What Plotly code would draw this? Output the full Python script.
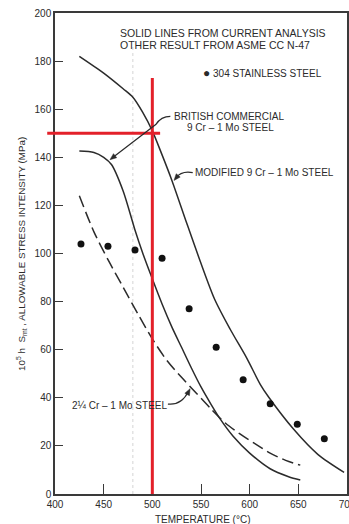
import math
import plotly.graph_objects as go

# Temperature (deg C) vs 10^5 h allowable stress intensity Smt (MPa)
mod_temp = [425, 450, 470, 480, 490, 500, 510, 520, 535, 549, 564, 580, 597, 611, 620, 645, 670, 697]
mod_stress = [182, 175, 168.5, 165, 158.8, 151, 141, 130.5, 113, 97, 81, 68.5, 56.5, 45.5, 40, 27, 16.5, 9]

brit_temp = [425, 440, 450, 458, 470, 482, 490, 499, 510, 520, 530, 540, 550, 560, 570, 583, 600, 621, 640, 652]
brit_stress = [142.6, 142, 140, 137, 126, 110, 100.3, 90.5, 79, 69.5, 61, 52.5, 44.5, 37.5, 31, 24, 17, 10.5, 7.2, 5.8]

crmo_temp = [425, 440, 455, 470, 485, 500, 515, 530, 545, 560, 575, 590, 605, 621, 637, 652]
crmo_stress = [124, 109, 97, 86, 75, 64.5, 55.5, 48.5, 42, 35.5, 29.5, 25, 21, 17, 14, 12]

ss_temp = [426.7, 454.4, 482.2, 510.0, 537.8, 565.6, 593.3, 621.1, 648.9, 676.7]
ss_stress = [104, 103, 101.5, 98, 77, 61, 47.5, 37.5, 29, 23]

x_ticks = [400, 450, 500, 550, 600, 650, 700]
y_ticks = [0, 20, 40, 60, 80, 100, 120, 140, 160, 180, 200]

# design point marked by the red cross-hair
ref_temp = 500
ref_stress = 150

INK = "#2b2b2b"
RED = "#e3202a"
FONT = "Liberation Sans"

X0, X1 = 400, 700
Y0, Y1 = 0, 200
W, H = 349, 524
ML, MR, MT, MB = 55, 2, 13, 30
SX = (W - ML - MR) / (X1 - X0)   # px per deg C
SY = (H - MT - MB) / (Y1 - Y0)   # px per MPa


def px(t):
    # data temperature -> paper fraction
    return (t - X0) / (X1 - X0)


def py(v):
    # data stress -> paper fraction
    return (v - Y0) / (Y1 - Y0)


def arrowhead(tip, tail, length=6.5, half=2.6):
    # filled triangular head at `tip`, pointing away from `tail` (data coords)
    dx = (tip[0] - tail[0]) * SX
    dy = (tip[1] - tail[1]) * SY
    n = math.hypot(dx, dy)
    ux, uy = dx / n, dy / n
    bx, by = -ux * length, -uy * length
    p1 = (bx - uy * half, by + ux * half)
    p2 = (bx + uy * half, by - ux * half)
    pts = [(0, 0), p1, p2]
    d = "M " + " L ".join(f"{tip[0] + a / SX:.3f},{tip[1] + b / SY:.3f}" for a, b in pts) + " Z"
    return dict(type="path", xref="x", yref="y", path=d,
                fillcolor=INK, line=dict(color=INK, width=0.5))


fig = go.Figure()

fig.add_trace(go.Scatter(x=mod_temp, y=mod_stress, mode="lines",
                         line=dict(color=INK, width=1.5, shape="spline", smoothing=0.8),
                         name="MODIFIED 9 Cr - 1 Mo STEEL"))
fig.add_trace(go.Scatter(x=brit_temp, y=brit_stress, mode="lines",
                         line=dict(color=INK, width=1.5, shape="spline", smoothing=0.8),
                         name="BRITISH COMMERCIAL 9 Cr - 1 Mo STEEL"))
fig.add_trace(go.Scatter(x=crmo_temp, y=crmo_stress, mode="lines",
                         line=dict(color=INK, width=1.5, shape="spline", smoothing=0.8,
                                   dash="12px,5px"),
                         name="2 1/4 Cr - 1 Mo STEEL"))
fig.add_trace(go.Scatter(x=ss_temp, y=ss_stress, mode="markers",
                         marker=dict(color="#111111", size=7),
                         name="304 STAINLESS STEEL"))

shapes = [
    # faint dotted construction line
    dict(type="line", xref="x", yref="y", x0=480, x1=480, y0=0, y1=187,
         line=dict(color="#d4d4d4", width=1, dash="dot"), layer="below"),
    # red cross-hair
    dict(type="line", xref="x", yref="y", x0=ref_temp, x1=ref_temp, y0=0, y1=173,
         line=dict(color=RED, width=3)),
    dict(type="line", xref="paper", yref="y", x0=px(392), x1=px(508),
         y0=ref_stress, y1=ref_stress, line=dict(color=RED, width=3)),
    # curved leaders
    dict(type="path", xref="x", yref="y",
         path="M 518.5,157 Q 509,157 503.5,153.6 L 459,139.8",
         line=dict(color=INK, width=1.2)),
    dict(type="path", xref="x", yref="y",
         path="M 541.5,133.6 Q 530,134.5 524,131.4",
         line=dict(color=INK, width=1.2)),
    dict(type="path", xref="x", yref="y",
         path="M 516,37.4 Q 530,36.8 537,42.6",
         line=dict(color=INK, width=1.2)),
    # leader arrowheads
    arrowhead((456.5, 139), (464, 141.4)),
    arrowhead((522.3, 130.4), (526, 132.2)),
    arrowhead((538.8, 43.8), (535, 40.8)),
]

txt = dict(family=FONT, size=10, color=INK)
annotations = [
    dict(x=px(464.7), y=py(191.6), xref="paper", yref="paper",
         text="SOLID LINES FROM CURRENT ANALYSIS", showarrow=False,
         xanchor="left", yanchor="middle", font=dict(family=FONT, size=10.5, color=INK)),
    dict(x=px(464.7), y=py(186.6), xref="paper", yref="paper",
         text="OTHER RESULT FROM ASME CC N-47", showarrow=False,
         xanchor="left", yanchor="middle", font=dict(family=FONT, size=10.5, color=INK)),
    dict(x=550.3, y=175.2, xref="x", yref="y",
         text="<span style='font-size:12px'>●</span> 304 STAINLESS STEEL",
         showarrow=False, xanchor="left", yanchor="middle", font=txt),
    dict(x=578.5, y=156.8, xref="x", yref="y", text="BRITISH COMMERCIAL",
         showarrow=False, xanchor="center", yanchor="middle", font=txt),
    dict(x=580, y=152.2, xref="x", yref="y", text="9 Cr – 1 Mo STEEL",
         showarrow=False, xanchor="center", yanchor="middle", font=txt),
    dict(x=542, y=133.6, xref="x", yref="y", text="MODIFIED 9 Cr – 1 Mo STEEL",
         showarrow=False, xanchor="left", yanchor="middle", font=txt),
    dict(x=415, y=37, xref="x", yref="y", text="2¼ Cr – 1 Mo STEEL",
         showarrow=False, xanchor="left", yanchor="middle", font=txt),
    # axis titles
    dict(x=-0.115, y=0.5, xref="paper", yref="paper", textangle=-90,
         text="10<sup>5</sup> h  S<sub>mt</sub> , ALLOWABLE STRESS INTENSITY (MPa)",
         showarrow=False, xanchor="center", yanchor="middle",
         font=dict(family=FONT, size=9.8, color=INK)),
    dict(x=0.505, y=-0.054, xref="paper", yref="paper", text="TEMPERATURE (°C)",
         showarrow=False, xanchor="center", yanchor="middle", font=txt),
]

axis_common = dict(showgrid=False, zeroline=False, showline=True, linecolor="#3a3a3a",
                   linewidth=1.5, mirror=True, ticks="inside", tickcolor="#3a3a3a",
                   tickwidth=1.3, tickfont=dict(family=FONT, size=10, color=INK),
                   ticklabeloverflow="allow", automargin=False)

fig.update_layout(
    width=W, height=H,
    margin=dict(l=ML, r=MR, t=MT, b=MB),
    paper_bgcolor="white", plot_bgcolor="white",
    showlegend=False,
    shapes=shapes,
    annotations=annotations,
    xaxis=dict(range=[X0, X1], tickvals=x_ticks, ticktext=[str(v) for v in x_ticks],
               ticklen=10, **axis_common),
    yaxis=dict(range=[Y0, Y1], tickvals=y_ticks, ticktext=[str(v) for v in y_ticks],
               ticklen=8, **axis_common),
)

fig.write_html("out.html")
